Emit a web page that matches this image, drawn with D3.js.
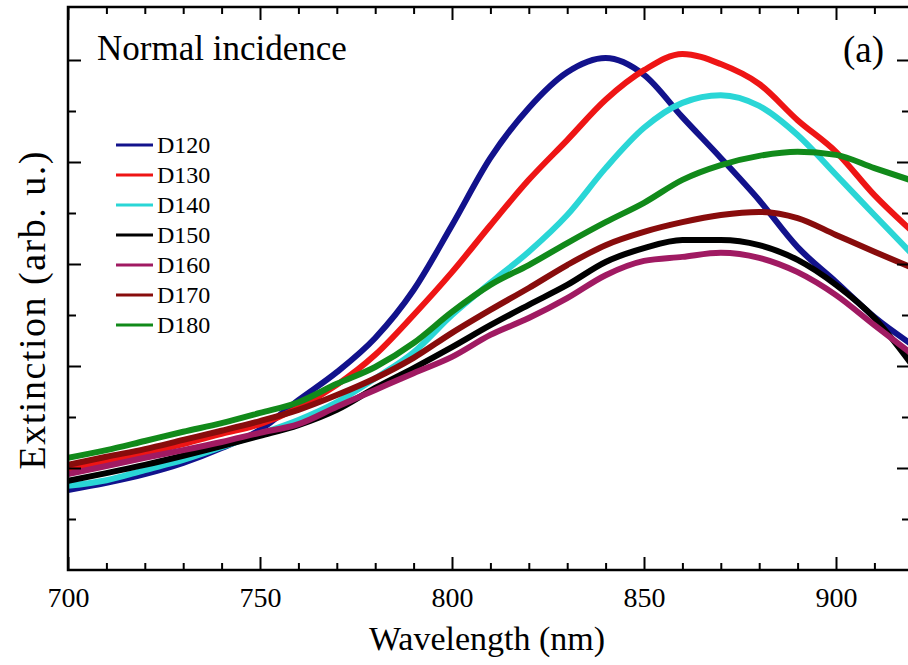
<!DOCTYPE html>
<html>
<head>
<meta charset="utf-8">
<script src="https://cdn.jsdelivr.net/npm/d3@7"></script>
<style>
  body { margin: 0; background: #fff; }
  svg { display: block; }
  svg text { font-family: 'Liberation Serif', 'Times New Roman', Times, 'DejaVu Serif', serif; fill: #000; }
</style>
</head>
<body>
<div id="chart"></div>
<script>
// wavelength grid (nm) and extinction (arb. u.)
const wavelengths = [700, 710, 720, 730, 740, 750, 760, 770, 780, 790, 800, 810, 820, 830, 840, 850, 860, 870, 880, 890, 900, 910, 920];

const d120 = [1.57, 1.71, 1.88, 2.10, 2.39, 2.75, 3.33, 3.88, 4.55, 5.49, 6.76, 8.08, 9.06, 9.76, 10.04, 9.71, 8.88, 8.08, 7.25, 6.33, 5.65, 4.96, 4.41];
const d130 = [1.96, 2.12, 2.29, 2.47, 2.67, 2.86, 3.18, 3.63, 4.22, 5.00, 5.84, 6.76, 7.65, 8.43, 9.22, 9.80, 10.12, 9.92, 9.53, 8.82, 8.20, 7.35, 6.63];
const d140 = [1.65, 1.76, 1.96, 2.16, 2.41, 2.67, 2.94, 3.29, 3.76, 4.27, 5.00, 5.63, 6.24, 6.96, 7.88, 8.67, 9.16, 9.31, 9.10, 8.53, 7.75, 6.96, 6.18];
const d150 = [1.75, 1.90, 2.06, 2.24, 2.43, 2.63, 2.84, 3.14, 3.57, 3.96, 4.37, 4.80, 5.20, 5.59, 6.04, 6.31, 6.47, 6.47, 6.37, 6.08, 5.59, 4.94, 4.00];
const d160 = [1.88, 2.04, 2.20, 2.35, 2.51, 2.69, 2.86, 3.20, 3.53, 3.86, 4.18, 4.61, 4.94, 5.33, 5.78, 6.06, 6.14, 6.22, 6.12, 5.84, 5.39, 4.80, 4.22];
const d170 = [2.06, 2.22, 2.37, 2.55, 2.73, 2.92, 3.14, 3.43, 3.76, 4.16, 4.65, 5.10, 5.53, 5.98, 6.37, 6.63, 6.82, 6.96, 7.02, 6.90, 6.57, 6.24, 5.92];
const d180 = [2.20, 2.35, 2.53, 2.71, 2.88, 3.08, 3.29, 3.65, 3.98, 4.45, 5.06, 5.59, 5.98, 6.41, 6.82, 7.20, 7.65, 7.94, 8.12, 8.20, 8.14, 7.88, 7.63];

const seriesNames = ['D120', 'D130', 'D140', 'D150', 'D160', 'D170', 'D180'];
const seriesValues = [d120, d130, d140, d150, d160, d170, d180];
const seriesColors = ['#12128c', '#ee1515', '#2ad6d6', '#000000', '#a01a62', '#880c0c', '#118a1a'];

const xMajorTicks = [700, 750, 800, 850, 900];
const xMinorTicks = [710, 720, 730, 740, 760, 770, 780, 790, 810, 820, 830, 840, 860, 870, 880, 890, 910];
const yMajorTicks = [2, 4, 6, 8, 10];
const yMinorTicks = [1, 3, 5, 7, 9];

const width = 908;
const height = 665;
const marginLeft = 68;
const plotRight = 910; // right frame sits just past the picture edge
const marginTop = 7;
const plotBottom = 570;

const x = d3.scaleLinear([700, 700 + (plotRight - marginLeft) / 3.84], [marginLeft, plotRight]);
const y = d3.scaleLinear([0, (plotBottom - marginTop) / 51], [plotBottom, marginTop]);

const svg = d3.select('#chart')
  .append('svg')
  .attr('width', width)
  .attr('height', height)
  .attr('viewBox', [0, 0, width, height]);

svg.append('defs')
  .append('clipPath')
  .attr('id', 'plot-clip')
  .append('rect')
  .attr('x', marginLeft)
  .attr('y', marginTop)
  .attr('width', plotRight - marginLeft)
  .attr('height', plotBottom - marginTop);

// CURVES
const line = d3.line()
  .x((d) => x(d[0]))
  .y((d) => y(d[1]))
  .curve(d3.curveMonotoneX);

svg.append('g')
  .attr('clip-path', 'url(#plot-clip)')
  .selectAll('path')
  .data(seriesValues)
  .join('path')
  .attr('fill', 'none')
  .attr('stroke', (d, i) => seriesColors[i])
  .attr('stroke-width', 6)
  .attr('stroke-linejoin', 'round')
  .attr('d', (vals) => line(d3.zip(wavelengths, vals)));

// AXES (ticks point inward on all four sides)
function styleAxis(g) {
  g.select('.domain').remove();
  g.selectAll('.tick line').attr('stroke', '#000').attr('stroke-width', 2);
}

svg.append('g')
  .attr('transform', `translate(0,${plotBottom})`)
  .call(d3.axisBottom(x).tickValues(xMajorTicks).tickSizeInner(-13).tickSizeOuter(0).tickPadding(17).tickFormat(d3.format('d')))
  .call(styleAxis)
  .call((g) => g.attr('font-family', null).attr('font-size', null))
  .call((g) => g.selectAll('.tick text').attr('font-size', 28).attr('fill', '#000'));

svg.append('g')
  .attr('transform', `translate(0,${plotBottom})`)
  .call(d3.axisBottom(x).tickValues(xMinorTicks).tickSizeInner(-7).tickSizeOuter(0).tickFormat(''))
  .call(styleAxis);

svg.append('g')
  .attr('transform', `translate(0,${marginTop})`)
  .call(d3.axisTop(x).tickValues(xMajorTicks).tickSizeInner(-13).tickSizeOuter(0).tickFormat(''))
  .call(styleAxis);

svg.append('g')
  .attr('transform', `translate(0,${marginTop})`)
  .call(d3.axisTop(x).tickValues(xMinorTicks).tickSizeInner(-7).tickSizeOuter(0).tickFormat(''))
  .call(styleAxis);

svg.append('g')
  .attr('transform', `translate(${marginLeft},0)`)
  .call(d3.axisLeft(y).tickValues(yMajorTicks).tickSizeInner(-13).tickSizeOuter(0).tickFormat(''))
  .call(styleAxis);

svg.append('g')
  .attr('transform', `translate(${marginLeft},0)`)
  .call(d3.axisLeft(y).tickValues(yMinorTicks).tickSizeInner(-8).tickSizeOuter(0).tickFormat(''))
  .call(styleAxis);

svg.append('g')
  .attr('transform', `translate(${plotRight},0)`)
  .call(d3.axisRight(y).tickValues(yMajorTicks).tickSizeInner(-13).tickSizeOuter(0).tickFormat(''))
  .call(styleAxis);

svg.append('g')
  .attr('transform', `translate(${plotRight},0)`)
  .call(d3.axisRight(y).tickValues(yMinorTicks).tickSizeInner(-8).tickSizeOuter(0).tickFormat(''))
  .call(styleAxis);

// FRAME
svg.append('rect')
  .attr('x', marginLeft)
  .attr('y', marginTop)
  .attr('width', plotRight - marginLeft)
  .attr('height', plotBottom - marginTop)
  .attr('fill', 'none')
  .attr('stroke', '#000')
  .attr('stroke-width', 2.5);

// AXIS TITLES
svg.append('text')
  .attr('x', (marginLeft + plotRight) / 2 - 2)
  .attr('y', 650)
  .attr('text-anchor', 'middle')
  .attr('font-size', 34)
  .text('Wavelength (nm)');

svg.append('text')
  .attr('transform', `translate(45,${(marginTop + plotBottom) / 2 + 22}) rotate(-90)`)
  .attr('text-anchor', 'middle')
  .attr('font-size', 38)
  .attr('textLength', 318)
  .attr('lengthAdjust', 'spacing')
  .text('Extinction (arb. u.)');

// ANNOTATIONS
svg.append('text')
  .attr('x', 97)
  .attr('y', 60)
  .attr('font-size', 35)
  .text('Normal incidence');

svg.append('text')
  .attr('x', 843)
  .attr('y', 62)
  .attr('font-size', 37)
  .text('(a)');

// LEGEND
const legend = svg.append('g')
  .attr('font-size', 24)
  .selectAll('g')
  .data(seriesNames)
  .join('g')
  .attr('transform', (d, i) => `translate(116,${145 + i * 30})`);

legend.append('line')
  .attr('x1', 0)
  .attr('x2', 37)
  .attr('stroke', (d, i) => seriesColors[i])
  .attr('stroke-width', 3);

legend.append('text')
  .attr('x', 41)
  .attr('dy', '0.34em')
  .text((d) => d);
</script>
</body>
</html>
